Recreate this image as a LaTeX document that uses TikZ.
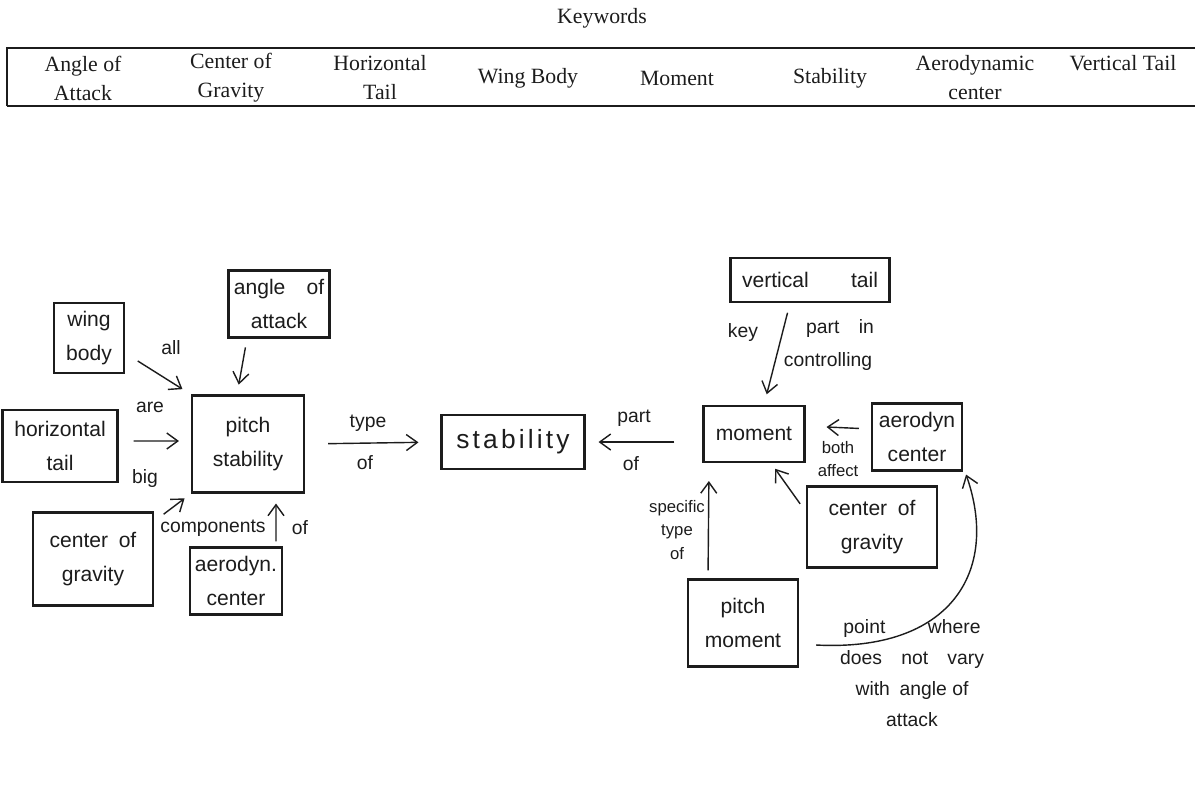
\documentclass[tikz,border=0pt]{standalone}
\usepackage{fontspec}
\setmainfont{Liberation Serif}
\newfontfamily\handfont{Liberation Sans}
\newfontfamily\handwide[LetterSpace=12]{Liberation Sans}
\definecolor{pencil}{HTML}{1C1C1C}
\usepackage{tikz}
\usetikzlibrary{positioning, arrows.meta}

\begin{document}
\begin{tikzpicture}[x=0.02cm, y=-0.02cm,
    every node/.style={text=pencil},
    kw/.style={font=\fontsize{12.4}{16.5}\selectfont, align=center, inner sep=0pt},
    box/.style={draw=pencil, line width=1.2pt, align=center, inner sep=2pt, font=\handfont\fontsize{12}{19}\selectfont},
    lbl/.style={font=\handfont\fontsize{11}{17.5}\selectfont, align=center, inner sep=1pt},
    small/.style={font=\handfont\fontsize{9.5}{13.5}\selectfont, align=center, inner sep=1pt},
    link/.style={-{Straight Barb[length=2.2mm, width=3.2mm]}, draw=pencil, line width=0.8pt}]
  \useasboundingbox (0,0) rectangle (1195,802);

  % keyword table
  \node[kw] (title) at (602,18) {Keywords};
  \draw[pencil, line width=1.4pt] (7,106) -- (7,48) -- (1195,48);
  \draw[pencil, line width=1.4pt] (7,106) -- (1195,106);
  \node[kw] (kwAoa) at (83,78) {Angle of\\Attack};
  \node[kw] (kwCog) at (231,78) {Center of\\Gravity};
  \node[kw] (kwHt) at (380,78) {Horizontal\\Tail};
  \node[kw] (kwWb) at (528,78) {Wing Body};
  \node[kw] (kwMom) at (677,78) {Moment};
  \node[kw] (kwStab) at (830,78) {Stability};
  \node[kw] (kwAc) at (975,78) {Aerodynamic\\center};
  \node[kw] (kwVt) at (1123,63) {Vertical Tail};

  % left cluster
  \node[box, minimum width=1.4cm, minimum height=1.4cm] (wb) at (89,338) {wing\\body};
  \node[box, minimum width=2.02cm, minimum height=1.34cm] (aoa) at (279,304) {angle\quad of\\attack};
  \node[box, minimum width=2.3cm, minimum height=1.44cm] (ht) at (60,446) {horizontal\\tail};
  \node[box, minimum width=2.24cm, minimum height=1.94cm] (ps) at (248,444) {pitch\\stability};
  \node[box, minimum width=2.4cm, minimum height=1.86cm] (cogL) at (93,559) {center\enspace of\\gravity};
  \node[box, minimum width=1.84cm, minimum height=1.34cm] (acL) at (236,581) {aerodyn.\\center};
  \node[box, font=\handwide\fontsize{15}{19}\selectfont, minimum width=2.86cm, minimum height=1.08cm] (st) at (513,442) {stability};

  % right cluster
  \node[box, minimum width=2.02cm, minimum height=1.12cm] (mom) at (754,434) {moment};
  \node[box, minimum width=3.18cm, minimum height=0.88cm] (vt) at (810,280) {vertical\hspace{2em}tail};
  \node[box, minimum width=1.8cm, minimum height=1.34cm] (acR) at (917,437) {aerodyn\\center};
  \node[box, minimum width=2.6cm, minimum height=1.62cm] (cogR) at (872,527) {center\enspace of\\gravity};
  \node[box, minimum width=2.2cm, minimum height=1.74cm] (pm) at (743,623) {pitch\\moment};

  % link labels
  \node[lbl] (lAll) at (171,348) {all};
  \node[lbl] (lAre) at (150,407) {are};
  \node[lbl] (lBig) at (145,478) {big};
  \node[lbl] (lComp) at (213,528) {components};
  \node[lbl] (lOfA) at (300,528) {of};
  \node[lbl] (lType) at (368,423) {type};
  \node[lbl] (lOfB) at (365,463) {of};
  \node[lbl] (lPart) at (634,418) {part};
  \node[lbl] (lOfC) at (631,464) {of};
  \node[lbl] (lKey) at (743,332) {key};
  \node[lbl] (lPartIn) at (840,328) {part\quad in};
  \node[lbl] (lCtrl) at (828,361) {controlling};
  \node[small] (lBoth) at (838,459) {both\\affect};
  \node[small] (lSpec) at (677,530) {specific\\type\\of};
  \node[lbl] (lPoint) at (912,673) {point\hspace{2.2em}where\\does\quad not\quad vary\\with\enspace angle of\\attack};

  % connectors
  \draw[link, shorten <=0.3cm, shorten >=0.2cm] ([yshift=-0.3cm]wb.east) -- (ps.north west);
  \draw[link, shorten <=0.18cm, shorten >=0.2cm] ([xshift=-0.64cm]aoa.south) -- ([xshift=-0.22cm]ps.north);
  \draw[link, shorten <=0.3cm, shorten >=0.24cm] ([yshift=0.1cm]ht.east) -- ([yshift=0.06cm]ps.west);
  \draw[link, shorten <=0.24cm, shorten >=0.16cm] ([yshift=-0.2cm]cogL.north east) -- (ps.south west);
  \draw[link, shorten <=0.1cm, shorten >=0.2cm] ([xshift=0.8cm]acL.north) -- ([xshift=0.56cm]ps.south);
  \draw[link, shorten <=0.46cm, shorten >=0.44cm] (ps.east) -- (st.west);
  \draw[link, shorten <=0.56cm, shorten >=0.26cm] (mom.west |- st.east) -- (st.east);
  \draw[link, shorten <=0.2cm, shorten >=0.22cm] ([xshift=-0.4cm]vt.south) -- ([xshift=0.2cm]mom.north);
  \draw[link, shorten <=0.24cm, shorten >=0.42cm] ([yshift=0.16cm]acR.west) -- ([yshift=0.16cm]mom.east);
  \draw[link, shorten <=0.2cm, shorten >=0.14cm] ([yshift=0.3cm]cogR.west) -- ([xshift=0.34cm]mom.south);
  \draw[link, shorten <=0.16cm, shorten >=0.36cm] ([xshift=-0.7cm]pm.north) -- ([xshift=-0.9cm]mom.south);
  \draw[link] ([xshift=0.34cm, yshift=-0.44cm]pm.east) .. controls (950,652) and (1000,572) .. ([xshift=0.06cm, yshift=-0.06cm]acR.south east);
\end{tikzpicture}
\end{document}
